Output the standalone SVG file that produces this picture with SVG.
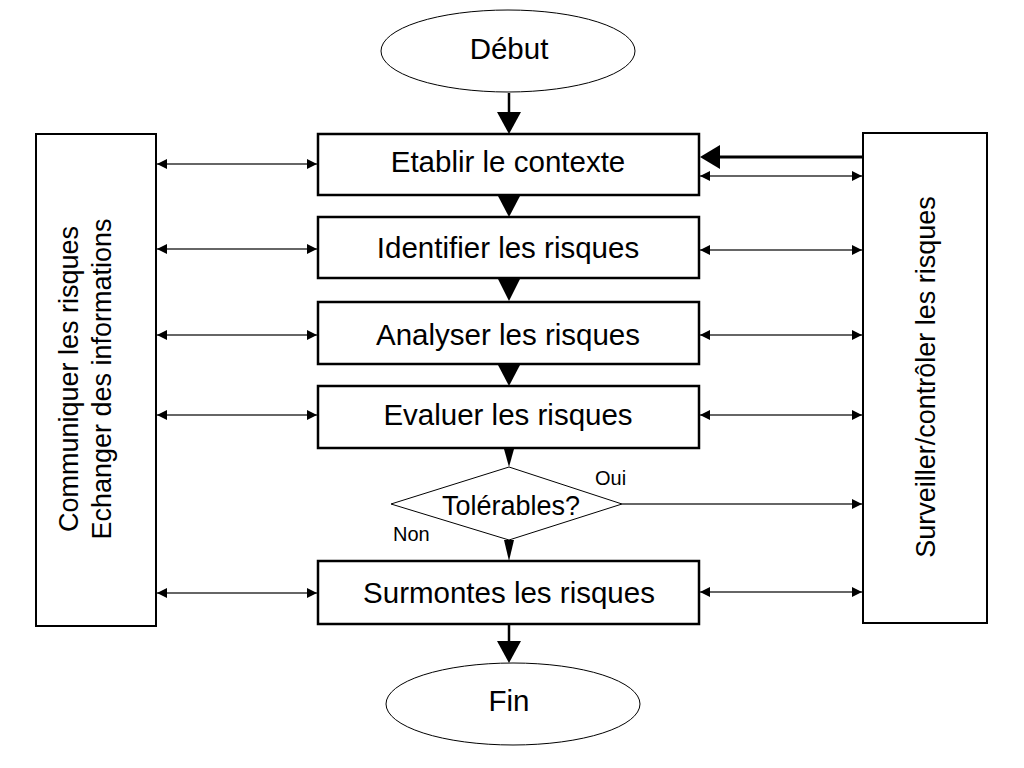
<svg xmlns="http://www.w3.org/2000/svg" width="1024" height="768" viewBox="0 0 1024 768">
<defs>
<style>
text{font-family:"Liberation Sans",Arial,sans-serif;fill:#000}
.box{fill:#fff;stroke:#000;stroke-width:2.5}
.side{fill:#fff;stroke:#000;stroke-width:2}
.term{fill:#fff;stroke:#000;stroke-width:1}
.lbl{font-size:29.5px;text-anchor:middle}
.thin{stroke:#333;stroke-width:1.3;fill:none}
.tri{fill:#000}
</style>
<marker id="ah" viewBox="0 0 10 10" refX="10" refY="5" markerWidth="10" markerHeight="10" markerUnits="userSpaceOnUse" orient="auto-start-reverse">
<path d="M0,0 L10,5 L0,10 Z" fill="#000"/>
</marker>
</defs>
<rect width="1024" height="768" fill="#fff"/>

<g id="debut"><ellipse class="term" cx="508" cy="51" rx="127" ry="41"/><text class="lbl" x="509" y="59" font-size="29">Début</text></g>
<g id="etablir"><rect class="box" x="318" y="134" width="381" height="61"/><text class="lbl" x="508" y="172">Etablir le contexte</text></g>
<g id="identifier"><rect class="box" x="318" y="217" width="381" height="61"/><text class="lbl" x="508" y="258">Identifier les risques</text></g>
<g id="analyser"><rect class="box" x="318" y="302" width="381" height="62"/><text class="lbl" x="508" y="345">Analyser les risques</text></g>
<g id="evaluer"><rect class="box" x="318" y="386" width="381" height="62"/><text class="lbl" x="508" y="425">Evaluer les risques</text></g>
<g id="tolerables"><polygon points="509,467 622,504 509,540 391,504" fill="#fff" stroke="#000" stroke-width="1"/><text x="511" y="515" font-size="27" text-anchor="middle">Tolérables?</text></g>
<g id="surmontes"><rect class="box" x="318" y="561" width="381" height="63"/><text class="lbl" x="509" y="603">Surmontes les risques</text></g>
<g id="fin"><ellipse class="term" cx="513" cy="704" rx="127" ry="41"/><text class="lbl" x="509" y="711" font-size="28">Fin</text></g>
<g id="communiquer"><rect class="side" x="36" y="134" width="120" height="492"/>
<text font-size="27" text-anchor="middle" transform="translate(78,379) rotate(-90)">Communiquer les risques</text>
<text font-size="27" text-anchor="middle" transform="translate(111,379) rotate(-90)">Echanger des informations</text></g>
<g id="surveiller"><rect class="side" x="863" y="133" width="124" height="490"/>
<text font-size="27" text-anchor="middle" transform="translate(935,377) rotate(-90)">Surveiller/contrôler les risques</text></g>

<g id="connectors">
<line x1="509" y1="93" x2="509" y2="113" stroke="#000" stroke-width="2.5"/>
<polygon class="tri" points="497,112 521,112 509,134"/>
<polygon class="tri" points="498,196 520,196 509,217"/>
<polygon class="tri" points="498,279 520,279 509,301"/>
<polygon class="tri" points="498,365 520,365 509,386"/>
<polygon class="tri" points="504,449 514,449 509,467"/>
<polygon class="tri" points="504,540 514,540 509,561"/>
<line x1="509" y1="624" x2="509" y2="642" stroke="#000" stroke-width="2.5"/>
<polygon class="tri" points="497,641 521,641 509,663"/>
<text x="595" y="485" font-size="20">Oui</text>
<text x="393" y="541" font-size="20">Non</text>
<line class="thin" x1="622" y1="504" x2="862" y2="504" marker-end="url(#ah)"/>
<line x1="862" y1="157" x2="718" y2="157" stroke="#000" stroke-width="3"/>
<polygon class="tri" points="720,145 720,169 700,157"/>
<line class="thin" x1="157" y1="164" x2="317" y2="164" marker-start="url(#ah)" marker-end="url(#ah)"/>
<line class="thin" x1="157" y1="249" x2="317" y2="249" marker-start="url(#ah)" marker-end="url(#ah)"/>
<line class="thin" x1="157" y1="335" x2="317" y2="335" marker-start="url(#ah)" marker-end="url(#ah)"/>
<line class="thin" x1="157" y1="415" x2="317" y2="415" marker-start="url(#ah)" marker-end="url(#ah)"/>
<line class="thin" x1="157" y1="593" x2="317" y2="593" marker-start="url(#ah)" marker-end="url(#ah)"/>
<line class="thin" x1="700" y1="176" x2="862" y2="176" marker-start="url(#ah)" marker-end="url(#ah)"/>
<line class="thin" x1="700" y1="250" x2="862" y2="250" marker-start="url(#ah)" marker-end="url(#ah)"/>
<line class="thin" x1="700" y1="335" x2="862" y2="335" marker-start="url(#ah)" marker-end="url(#ah)"/>
<line class="thin" x1="700" y1="415" x2="862" y2="415" marker-start="url(#ah)" marker-end="url(#ah)"/>
<line class="thin" x1="700" y1="592" x2="862" y2="592" marker-start="url(#ah)" marker-end="url(#ah)"/>
</g>
</svg>
